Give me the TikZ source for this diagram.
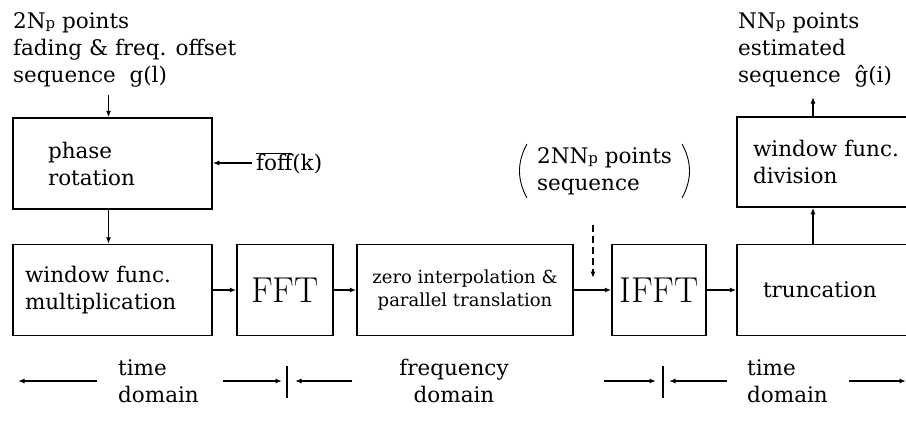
\documentclass[tikz,border=0pt]{standalone}
\usepackage{fontspec}
\setmainfont{DejaVu Serif}
\newfontfamily\fftfont{Latin Modern Roman}
\usetikzlibrary{arrows.meta,positioning}
\newcommand{\Np}{N{\fontsize{15}{15}\selectfont\raisebox{-0.5pt}{p}}}

\begin{document}
\begin{tikzpicture}[x=1pt,y=-1pt,font=\fontsize{21.5}{27}\selectfont,
  blk/.style={draw,line width=1.5pt,minimum height=91,align=left},
  lbl/.style={align=left,inner sep=0pt},
  arr/.style={-{Latex[length=6.5pt,width=5pt]},line width=1.2pt}]
\useasboundingbox (0,0) rectangle (906,421);
% top row
\node[blk,minimum width=199,text width=129,inner xsep=35] (phase) at (112.5,163.5) {phase\\rotation};
\node[blk,minimum width=190,text width=158,inner xsep=16,minimum height=90] (wdiv) at (832,162) {window func.\\division};
% main chain
\node[blk,minimum width=199,text width=175,inner xsep=12] (wmul) at (112.5,290) {window func.\\multiplication};
\node[blk,minimum width=96,inner sep=0pt,font=\fftfont\fontsize{36}{36}\selectfont] (fft) at (285,290) {FFT};
\node[blk,minimum width=216,align=center,inner sep=0pt,font=\fontsize{18}{23}\selectfont] (zero) at (465,290) {zero interpolation \&\\parallel translation};
\node[blk,minimum width=94,inner sep=0pt,font=\fftfont\fontsize{36}{36}\selectfont] (ifft) at (659,290) {IFFT};
\node[blk,minimum width=190,text width=138,inner xsep=26] (trunc) at (832,290) {truncation};
% inputs and outputs
\node[lbl,anchor=north west] (src) at (13,12) {2\Np{} points\\fading \& freq. offset\\sequence\ \ g(l)};
\node[lbl,anchor=west] (foff) at (256,163) {$\overline{\mbox{foff}}$(k)};
\node[lbl,anchor=north west] (est) at (738,12) {N\Np{} points\\estimated\\sequence\ \ ĝ(i)};
\node[lbl,inner xsep=14pt,inner ysep=3pt] (seq) at (604.5,171) {2N\Np{} points\\sequence};
\coordinate (tapin) at (593,225);
\coordinate (tap) at (593,278);
% brackets round the sequence note
\draw[line width=0.9pt] ([xshift=4]seq.north west) to[bend right=28] ([xshift=4]seq.south west);
\draw[line width=0.9pt] ([xshift=-4]seq.north east) to[bend left=28] ([xshift=-4]seq.south east);

\draw[arr,shorten <=8pt] ([xshift=-4]phase.north |- src.south) -- ([xshift=-4]phase.north);
\draw[arr,shorten <=4pt] (foff.west) -- (foff.west -| phase.east);
\draw[arr] ([xshift=-4]phase.south) -- ([xshift=-4]wmul.north);
\draw[arr] (wmul) -- (fft);
\draw[arr] (fft) -- (zero);
\draw[arr] (zero) -- (ifft);
\draw[arr] (ifft) -- (trunc);
\draw[arr] ([xshift=-19]trunc.north) -- ([xshift=-19]wdiv.south);
\draw[arr,shorten >=10pt] ([xshift=-19]wdiv.north) -- ([xshift=-19]wdiv.north |- est.south);
\draw[arr,dash pattern=on 7pt off 4pt] (tapin) -- (tap);

% domains
\node[lbl,anchor=west] (tdom1) at (118,381) {time\\domain};
\node[lbl,align=center] (fdom) at (454,381) {frequency\\domain};
\node[lbl,anchor=west] (tdom2) at (747,381) {time\\domain};
\foreach \a/\b in {97/18,223/282,352/295,604/656,727/669,849/906}
  \draw[arr] (\a,381) -- (\b,381);
\foreach \x in {287,663}
  \draw[line width=1.2pt] (\x,366) -- (\x,398);
\end{tikzpicture}
\end{document}
